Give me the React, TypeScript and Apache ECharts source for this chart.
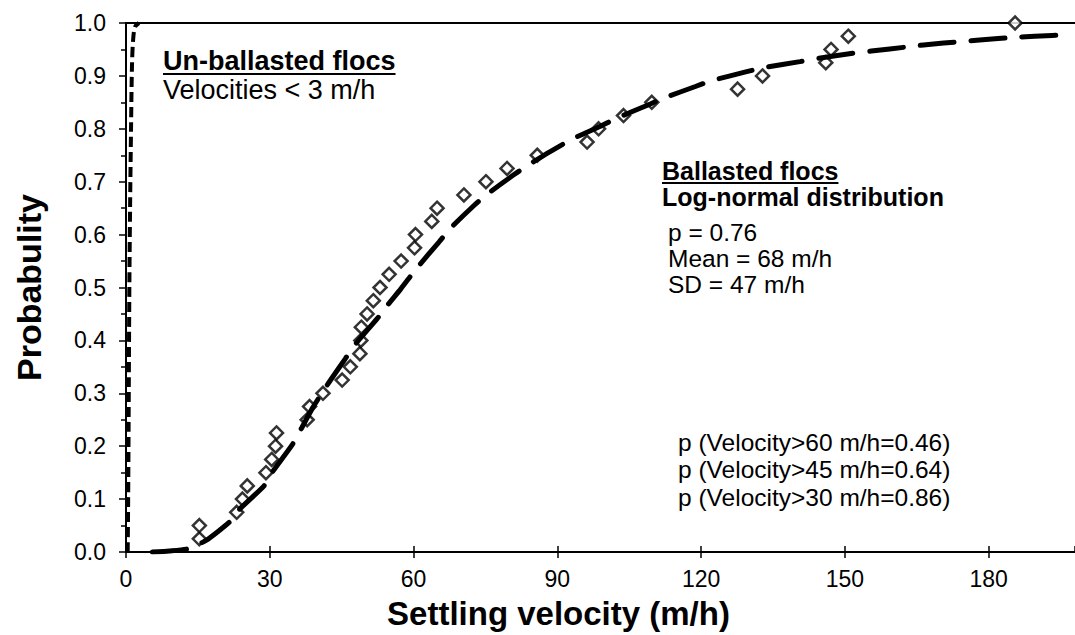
import React, { useEffect, useRef } from "react";
import * as echarts from "echarts";

const observedVelocity = [
  15.3, 15.3, 23.1, 24.3, 25.3, 29.2, 30.4, 31.2, 31.4, 37.8,
  38.3, 41.1, 45.1, 46.8, 48.8, 49.0, 49.1, 50.3, 51.6, 53.0,
  54.9, 57.4, 60.2, 60.4, 63.8, 64.9, 70.5, 75.1, 79.5, 85.8,
  96.2, 98.6, 103.8, 109.7, 127.6, 132.8, 146.0, 147.1, 150.7, 185.5,
];
const observedProbability = [
  0.025, 0.05, 0.075, 0.1, 0.125, 0.15, 0.175, 0.2, 0.225, 0.25,
  0.275, 0.3, 0.325, 0.35, 0.375, 0.4, 0.425, 0.45, 0.475, 0.5,
  0.525, 0.55, 0.575, 0.6, 0.625, 0.65, 0.675, 0.7, 0.725, 0.75,
  0.775, 0.8, 0.825, 0.85, 0.875, 0.9, 0.925, 0.95, 0.975, 1.0,
];

const ballastedCurveVelocity = [
  5.5, 9, 12.9, 16.7, 21.5, 23.6, 28.8, 30.6, 34.7, 36.5, 38.9, 42, 45.8,
  47.6, 52.4, 54.5, 57.3, 60.8, 65.3, 67.7, 72.6, 75.3, 80.9, 84, 88.5,
  93.4, 99, 102.4, 109.4, 112.2, 118.8, 122.2, 129.5, 133.3, 140.6, 144.4,
  151.7, 155.5, 163.2, 166.9, 174.3, 178.1, 185.8, 189.6, 197.2,
];
const ballastedCurveProbability = [
  0.0, 0.002, 0.006, 0.022, 0.056, 0.08, 0.125, 0.152, 0.203, 0.232, 0.272,
  0.316, 0.366, 0.39, 0.441, 0.466, 0.497, 0.538, 0.586, 0.612, 0.655, 0.676,
  0.713, 0.732, 0.757, 0.782, 0.805, 0.82, 0.847, 0.858, 0.88, 0.891, 0.908,
  0.916, 0.927, 0.933, 0.943, 0.947, 0.955, 0.959, 0.965, 0.968, 0.973,
  0.975, 0.978,
];

const unballastedCurveVelocity = [0.35, 0.45, 0.55, 0.7, 0.85, 1.05, 1.25, 1.5, 1.9, 2.7];
const unballastedCurveProbability = [0.0, 0.1, 0.25, 0.5, 0.65, 0.8, 0.92, 0.97, 0.993, 1.0];

const unballastedTitle = "Un-ballasted flocs";
const unballastedNote = "Velocities < 3 m/h";
const ballastedTitle = "Ballasted flocs";
const ballastedSubtitle = "Log-normal distribution";
const ballastedStats = ["p = 0.76", "Mean = 68 m/h", "SD = 47 m/h"];
const exceedanceLines = [
  "p (Velocity>60 m/h=0.46)",
  "p (Velocity>45 m/h=0.64)",
  "p (Velocity>30 m/h=0.86)",
];

const FONT = "Liberation Sans";

function measure(text: string, size: number, weight: string) {
  const ctx = document.createElement("canvas").getContext("2d");
  if (!ctx) return text.length * size * 0.55;
  ctx.font = `${weight} ${size}px "${FONT}"`;
  return ctx.measureText(text).width;
}

function label(text: string, x: number, y: number, size: number, bold: boolean) {
  return {
    type: "text",
    x,
    y,
    z: 100,
    style: {
      text,
      fill: "#000",
      fontSize: size,
      fontWeight: bold ? "bold" : "normal",
      fontFamily: FONT,
      textAlign: "left",
      textVerticalAlign: "middle",
    },
  };
}

function underline(text: string, x: number, y: number, size: number) {
  const w = measure(text, size, "bold");
  return {
    type: "line",
    z: 100,
    shape: { x1: x, y1: y, x2: x + w, y2: y },
    style: { stroke: "#000", lineWidth: 2 },
  };
}

export default function App() {
  const ref = useRef<HTMLDivElement>(null);

  useEffect(() => {
    if (!ref.current) return;
    const chart = echarts.init(ref.current, null, { renderer: "svg" });

    const scatterData = observedVelocity.map((v, i) => [v, observedProbability[i]]);
    const ballastedData = ballastedCurveVelocity.map((v, i) => [v, ballastedCurveProbability[i]]);
    const unballastedData = unballastedCurveVelocity.map((v, i) => [v, unballastedCurveProbability[i]]);

    const axisText = { color: "#000", fontFamily: FONT, fontSize: 23 };

    const graphics: any[] = [
      label(unballastedTitle, 163, 61, 27, true),
      underline(unballastedTitle, 163, 74, 27),
      label(unballastedNote, 163, 90, 27, false),
      label(ballastedTitle, 662, 171, 25, true),
      underline(ballastedTitle, 662, 183, 25),
      label(ballastedSubtitle, 662, 197, 25, true),
      ...ballastedStats.map((t, i) => label(t, 668, 232 + i * 26, 24.5, false)),
      ...exceedanceLines.map((t, i) => label(t, 678, 442 + i * 27.5, 24.5, false)),
    ];

    chart.setOption({
      animation: false,
      backgroundColor: "#fff",
      grid: { left: 126, top: 23, width: 950, height: 532, containLabel: false },
      xAxis: [
        {
          type: "value",
          position: "bottom",
          min: 0,
          max: 198,
          interval: 30,
          name: "Settling velocity (m/h)",
          nameLocation: "middle",
          nameGap: 45,
          nameTextStyle: {
            color: "#000",
            fontFamily: FONT,
            fontSize: 33,
            fontWeight: "bold",
            padding: [0, 84, 0, 0],
          },
          axisLine: { show: true, onZero: false, lineStyle: { color: "#000", width: 2 } },
          axisTick: { show: true, inside: false, length: 6, lineStyle: { color: "#000", width: 1.5 } },
          axisLabel: { ...axisText, margin: 15, showMaxLabel: false },
          splitLine: { show: false },
        },
        {
          type: "value",
          position: "top",
          min: 0,
          max: 198,
          interval: 30,
          axisLine: { show: true, onZero: false, lineStyle: { color: "#000", width: 2 } },
          axisTick: { show: false },
          axisLabel: { show: false },
          splitLine: { show: false },
        },
        {
          type: "value",
          position: "bottom",
          min: 0,
          max: 198,
          interval: 30,
          axisLine: { show: false, onZero: false },
          axisTick: { show: true, inside: true, length: 6, lineStyle: { color: "#000", width: 1.5 } },
          axisLabel: { show: false },
          splitLine: { show: false },
        },
      ],
      yAxis: {
        type: "value",
        min: 0,
        max: 1,
        interval: 0.1,
        name: "Probabulity",
        nameLocation: "middle",
        nameGap: 80,
        nameRotate: 90,
        nameTextStyle: { color: "#000", fontFamily: FONT, fontSize: 34, fontWeight: "bold" },
        axisLine: { show: true, onZero: false, lineStyle: { color: "#000", width: 2 } },
        axisTick: { show: true, inside: false, length: 7, lineStyle: { color: "#000", width: 1.5 } },
        minorTick: { show: true, splitNumber: 2, length: 5, lineStyle: { color: "#000", width: 1.5 } },
        axisLabel: { ...axisText, margin: 20, formatter: (v: number) => v.toFixed(1) },
        splitLine: { show: false },
      },
      series: [
        {
          type: "scatter",
          xAxisIndex: 0,
          data: scatterData,
          symbol: "diamond",
          symbolSize: 13,
          itemStyle: { color: "#fff", borderColor: "#000", borderWidth: 2.5 },
          z: 2,
        },
        {
          type: "line",
          xAxisIndex: 0,
          data: ballastedData,
          showSymbol: false,
          smooth: 0.2,
          lineStyle: { color: "#000", width: 5, type: [34, 17], cap: "round" },
          z: 3,
        },
        {
          type: "line",
          xAxisIndex: 0,
          data: unballastedData,
          showSymbol: false,
          smooth: 0.3,
          lineStyle: { color: "#000", width: 4, type: [10, 5] },
          z: 3,
        },
      ],
      graphic: graphics,
    });

    return () => chart.dispose();
  }, []);

  return (
    <div
      ref={ref}
      style={{ position: "fixed", left: 0, top: 0, width: 1075, height: 635, background: "#fff" }}
    />
  );
}
